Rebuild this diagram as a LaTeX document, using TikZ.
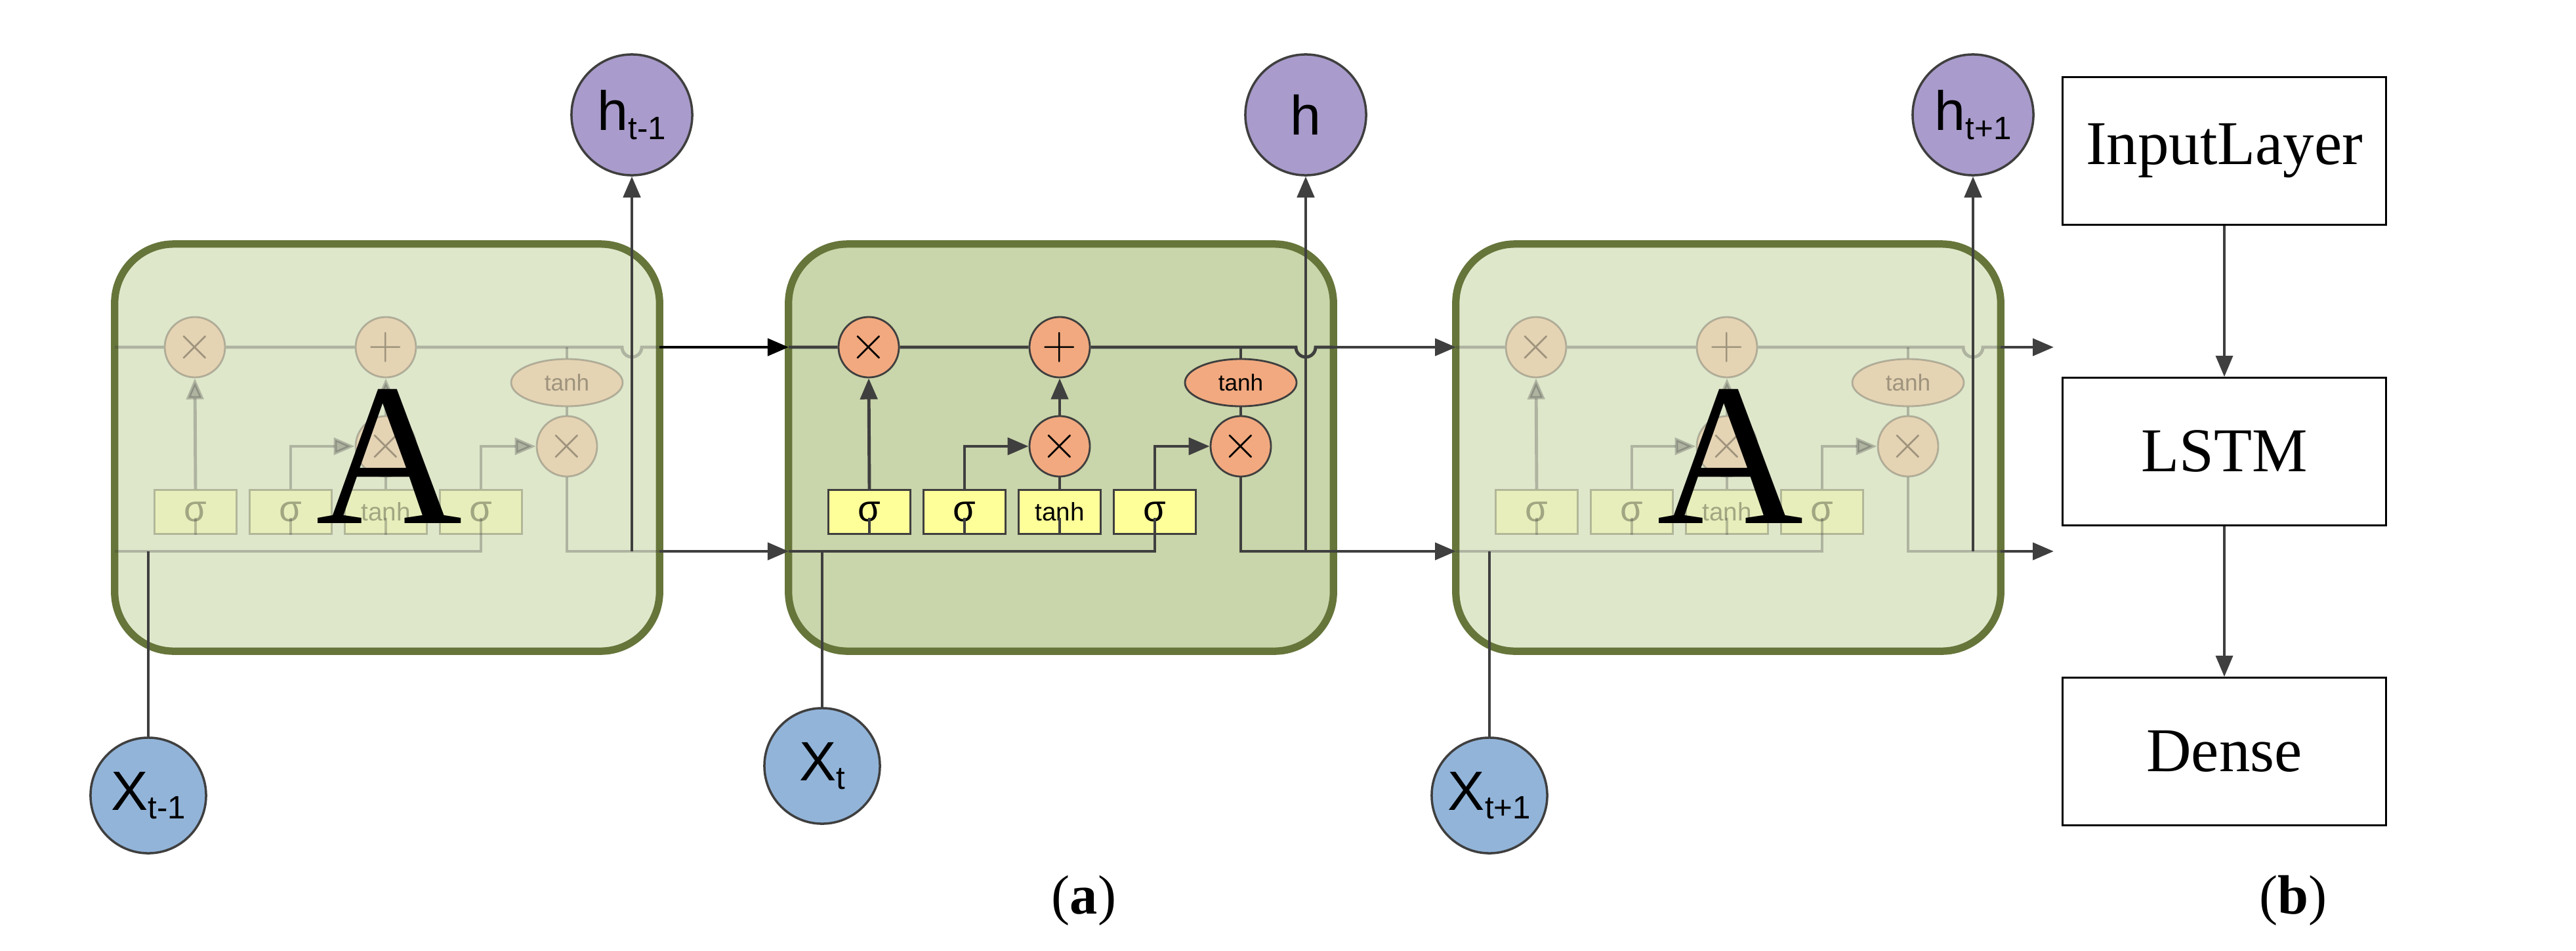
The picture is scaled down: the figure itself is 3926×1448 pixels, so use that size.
\documentclass[tikz,border=0pt]{standalone}
\usepackage{fontspec}
\setmainfont{Liberation Serif}
\newfontfamily\gatefont{Liberation Sans}
\usetikzlibrary{arrows.meta,shapes.geometric}

\definecolor{cellline}{HTML}{66753A}
\definecolor{cellfill}{HTML}{C9D5AA}
\definecolor{fadefill}{HTML}{DFE7CB}
\definecolor{opfill}{HTML}{F2A97F}
\definecolor{gatefill}{HTML}{FFFF99}
\definecolor{hfill}{HTML}{A99BCB}
\definecolor{xfill}{HTML}{92B4D9}
\definecolor{wire}{HTML}{3F3F3F}

\tikzset{
  cell/.style={draw=cellline, line width=3.2pt, rounded corners=0.9cm,
    minimum width=8.3cm, minimum height=6.2cm},
  op/.style={circle, draw=wire, fill=opfill, line width=0.8pt, minimum size=0.92cm,
    inner sep=0pt, font=\gatefont\fontsize{20}{20}\selectfont},
  tanhop/.style={ellipse, draw=wire, fill=opfill, line width=0.8pt, minimum width=1.7cm,
    minimum height=0.72cm, inner sep=0pt, font=\gatefont\fontsize{10}{10}\selectfont},
  gate/.style={rectangle, draw=wire, fill=gatefill, line width=0.8pt, minimum width=1.25cm,
    minimum height=0.67cm, inner sep=0pt, font=\gatefont\fontsize{16}{16}\selectfont},
  wires/.style={draw=wire, line width=1.4pt},
  arr/.style={wires, -{Triangle[length=0.32cm,width=0.26cm]}},
  hnode/.style={circle, draw=wire, fill=hfill, line width=1pt, minimum size=1.84cm,
    inner sep=0pt, font=\gatefont\fontsize{24}{24}\selectfont},
  xnode/.style={circle, draw=wire, fill=xfill, line width=1pt, minimum size=1.76cm,
    inner sep=0pt, font=\gatefont\fontsize{24}{24}\selectfont},
  layer/.style={rectangle, draw=black, line width=0.8pt, minimum width=4.93cm,
    minimum height=2.25cm, font=\fontsize{27}{27}\selectfont}
}

% one cell: #1 shift, #2 name, #3 opacity of the inside, #4 fill
\newcommand{\lstmcell}[4]{%
  \begin{scope}[shift={(#1,0)}]
    \node[cell, fill=#4] (#2) at (415,682) {};
    \coordinate (#2-lt) at (0,529);
    \coordinate (#2-lb) at (0,840);
    \coordinate (#2-rt) at (830,529);
    \coordinate (#2-rb) at (830,840);
    \coordinate (#2-hx) at (788,840);
    \coordinate (#2-xin) at (51,840);
    \begin{scope}[opacity=#3]
      \node[op] (#2-f) at (122,529) {$\times$};
      \node[op] (#2-i) at (413,529) {$+$};
      \node[op] (#2-c) at (413,680) {$\times$};
      \node[op] (#2-o) at (689,680) {$\times$};
      \node[tanhop] (#2-t) at (689,583) {tanh};
      \foreach \k/\x/\txt in {1/123/σ, 2/268/σ, 3/413/{\fontsize{11}{11}\selectfont tanh}, 4/558/σ}
      {
        \node[gate] (#2-g\k) at (\x,780) {\txt};
        \draw[wires] (#2-g\k.south) -- ++(0,-26);
      }
      \draw[wires] (#2-lt) -- (#2-f) -- (#2-i) -- (773,529) arc (180:0:15) -- (#2-rt);
      \draw[wires] (#2-lb) -| (#2-g4.south);
      \draw[arr] (#2-g4.north) |- (#2-o.west);
      \draw[arr] (#2-g1.north) -- (#2-f.south);
      \draw[arr] (#2-g2.north) |- (#2-c.west);
      \draw[wires] (#2-g3.north) -- (#2-c.south);
      \draw[arr] (#2-c.north) -- (#2-i.south);
      \draw[wires] (689,529) -- (#2-t.north);
      \draw[wires] (#2-t.south) -- (#2-o.north);
      \draw[wires] (#2-o.south) |- (#2-rb);
    \end{scope}
  \end{scope}
}

\begin{document}
\begin{tikzpicture}[x=0.01cm, y=-0.01cm]
  \useasboundingbox (0,0) rectangle (3926,1448);

  \lstmcell{175}{L}{0.3}{fadefill}
  \lstmcell{1202}{M}{1}{cellfill}
  \lstmcell{2219}{R}{0.3}{fadefill}

  \node[font=\fontsize{88}{88}\selectfont] (LA) at (593,695) {A};
  \node[font=\fontsize{88}{88}\selectfont] (RA) at (2637,695) {A};

  % outputs and inputs
  \node[hnode] (h1) at (963,175) {h\raisebox{-0.3ex}{\fontsize{14}{14}\selectfont t-1}};
  \node[hnode] (h2) at (1990,175) {h};
  \node[hnode] (h3) at (3007,175) {h\raisebox{-0.3ex}{\fontsize{14}{14}\selectfont t+1}};
  \node[xnode] (x1) at (226,1212) {X\raisebox{-0.3ex}{\fontsize{14}{14}\selectfont t-1}};
  \node[xnode] (x2) at (1253,1167) {X\raisebox{-0.3ex}{\fontsize{14}{14}\selectfont t}};
  \node[xnode] (x3) at (2270,1212) {X\raisebox{-0.3ex}{\fontsize{14}{14}\selectfont t+1}};

  \foreach \c/\h/\x in {L/h1/x1, M/h2/x2, R/h3/x3}
  {
    \draw[arr] (\c-hx) -- (\h);
    \draw[wires] (\x) -- (\c-xin);
  }

  % links between cells
  \coordinate (endt) at (3130,529);
  \coordinate (endb) at (3130,840);
  \draw[arr, draw=black] (L-rt) -- (M-lt);
  \draw[arr] (L-rb) -- (M-lb);
  \draw[arr] (M-rt) -- (R-lt);
  \draw[arr] (M-rb) -- (R-lb);
  \draw[arr] (R-rt) -- (endt);
  \draw[arr] (R-rb) -- (endb);

  % model layers
  \node[layer] (inp) at (3390,230) {InputLayer};
  \node[layer] (lstm) at (3390,688) {LSTM};
  \node[layer] (dense) at (3390,1145) {Dense};
  \draw[arr, line width=1pt] (inp) -- (lstm);
  \draw[arr, line width=1pt] (lstm) -- (dense);

  \node[font=\fontsize{24}{24}\selectfont] (capa) at (1652,1372) {(\textbf{a})};
  \node[font=\fontsize{24}{24}\selectfont] (capb) at (3495,1372) {(\textbf{b})};
\end{tikzpicture}
\end{document}
